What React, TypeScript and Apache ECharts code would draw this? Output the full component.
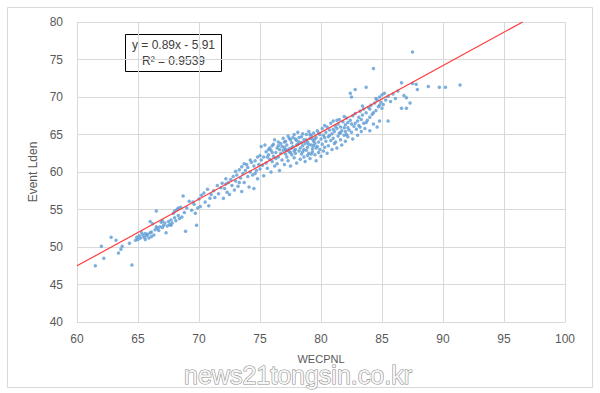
import React, { useEffect, useRef } from "react";
import * as echarts from "echarts";

const xTicks = { min: 60, max: 100, interval: 5 };
const yTicks = { min: 40, max: 80, interval: 5 };
const xTitle = "WECPNL";
const yTitle = "Event Lden";
const slope = 0.89;
const intercept = -5.91;
const rSquared = "0.9539";
const watermark = "news21tongsin.co.kr";

const pointsLow: [number, number][] = [
  [61.5, 47.5], [62.0, 50.1], [62.2, 48.5], [62.8, 51.3], [63.2, 50.9], [63.4, 49.2], [63.6, 49.7], [63.7, 50.1],
  [64.3, 50.5], [64.5, 47.6], [64.8, 50.9], [64.9, 51.3], [65.0, 51.0], [65.1, 51.5], [65.2, 51.2], [65.4, 51.6],
  [65.5, 51.3], [65.6, 51.8], [65.7, 51.5], [65.8, 51.7], [65.9, 51.2], [66.0, 51.9], [66.0, 53.4], [66.1, 52.0],
  [66.2, 53.1], [66.3, 51.6], [66.4, 52.3], [66.5, 54.8], [66.6, 52.5], [66.7, 52.2], [66.8, 52.7], [66.9, 53.3],
  [67.0, 52.6], [67.1, 52.9], [67.2, 53.2], [67.3, 51.9], [67.4, 52.8], [67.5, 53.4], [67.6, 53.0], [67.7, 53.6],
  [67.8, 53.2], [67.9, 54.5], [68.0, 53.9], [68.0, 54.8], [68.1, 53.5], [68.2, 55.0], [68.3, 54.2], [68.4, 53.8],
  [68.5, 55.3], [68.6, 54.0], [68.7, 56.8], [68.9, 52.1], [69.0, 55.2], [69.2, 56.1], [69.4, 54.9], [69.5, 56.0],
  [69.7, 54.5], [69.8, 52.9], [69.9, 55.2], [70.0, 56.4], [70.1, 55.4], [70.2, 56.9], [70.4, 57.2], [70.5, 56.0],
  [70.7, 57.7], [70.8, 55.5], [70.9, 56.5], [65.3, 51.9], [65.6, 51.0], [66.1, 51.4], [66.5, 52.7], [67.0, 53.5],
  [67.7, 52.9], [68.3, 55.2], [68.8, 54.6], [69.6, 55.7],
];

const pointsMidLow: [number, number][] = [
  [71.0, 57.0], [71.2, 57.5], [71.3, 56.6], [71.5, 58.2], [71.6, 57.1], [71.8, 57.9], [71.9, 58.5], [72.0, 56.5],
  [72.1, 57.8], [72.2, 58.4], [72.3, 57.3], [72.4, 58.6], [72.5, 57.0], [72.6, 59.0], [72.7, 58.2], [72.8, 59.4],
  [72.9, 57.6], [73.0, 58.8], [73.1, 59.6], [73.2, 58.1], [73.3, 60.3], [73.4, 59.2], [73.5, 57.4], [73.5, 60.7],
  [73.6, 59.8], [73.7, 58.6], [73.8, 60.2], [73.9, 61.0], [74.0, 59.4], [74.0, 60.6], [74.1, 58.0], [74.2, 60.0],
  [74.3, 61.3], [74.4, 59.6], [74.5, 60.8], [74.5, 57.8], [74.6, 61.5], [74.7, 60.2], [74.8, 59.1], [74.9, 61.0],
  [75.0, 60.4], [75.0, 62.2], [72.2, 59.1], [73.0, 60.1], [73.7, 61.1], [74.2, 61.6], [74.8, 62.0], [73.3, 58.6],
  [74.6, 59.8],
];

const pointsDense: [number, number][] = [
  [75.1, 61.6], [75.1, 63.4], [75.2, 60.9], [75.3, 62.0], [75.3, 59.5], [75.4, 63.6], [75.5, 61.2], [75.5, 62.7],
  [75.6, 60.5], [75.7, 62.3], [75.7, 63.0], [75.8, 61.7], [75.9, 60.0], [75.9, 62.9], [76.0, 61.4], [76.0, 63.5],
  [76.1, 62.1], [76.2, 64.3], [76.2, 60.8], [76.3, 62.6], [76.4, 63.2], [76.4, 61.1], [76.5, 62.0], [76.5, 64.0],
  [76.6, 63.0], [76.6, 60.2], [76.7, 62.5], [76.7, 63.8], [76.8, 61.6], [76.9, 62.9], [76.9, 64.5], [77.0, 63.3],
  [77.0, 61.0], [77.1, 62.4], [77.1, 64.1], [77.2, 63.6], [77.2, 62.0], [77.3, 64.8], [77.3, 61.5], [77.4, 63.1],
  [77.4, 62.7], [77.5, 64.3], [77.5, 60.8], [77.6, 63.9], [77.6, 62.3], [77.7, 64.6], [77.7, 63.4], [77.8, 61.9],
  [77.8, 65.0], [77.9, 63.0], [77.9, 62.5], [78.0, 64.2], [78.0, 61.2], [78.1, 63.7], [78.1, 65.3], [78.2, 62.8],
  [78.2, 64.0], [78.3, 63.2], [78.3, 61.7], [78.4, 64.7], [78.4, 62.4], [78.5, 63.5], [78.5, 65.1], [78.6, 62.0],
  [78.6, 64.3], [78.7, 63.8], [78.7, 61.4], [78.8, 65.0], [78.8, 62.9], [78.9, 64.0], [78.9, 63.3], [79.0, 62.5],
  [79.0, 65.4], [79.1, 64.5], [79.1, 61.8], [79.2, 63.6], [79.2, 64.9], [79.3, 62.7], [79.3, 63.1], [79.4, 65.2],
  [79.4, 64.1], [79.5, 62.3], [79.5, 63.8], [79.6, 64.6], [79.6, 61.5], [79.7, 63.4], [79.7, 65.5], [79.8, 64.0],
  [79.8, 62.6], [79.9, 63.0], [79.9, 65.0], [80.0, 64.4], [80.0, 62.1],
  [75.6, 62.0], [75.8, 63.2], [76.1, 63.7], [76.3, 61.8], [76.8, 63.4], [77.0, 64.0], [77.2, 62.9], [77.4, 64.5],
  [77.6, 63.2], [77.8, 62.8], [78.0, 63.6], [78.2, 64.6], [78.4, 63.9], [78.6, 63.0], [78.8, 64.3], [79.0, 63.7],
  [79.2, 62.4], [79.4, 63.5], [79.6, 63.2], [79.8, 65.2], [76.5, 63.5], [77.1, 63.0], [77.9, 64.4], [78.5, 62.7],
  [79.1, 65.0], [79.5, 64.4], [76.0, 62.6], [77.5, 62.6], [78.9, 62.2], [79.3, 64.4],
];

const pointsMidHigh: [number, number][] = [
  [80.1, 63.7], [80.1, 65.8], [80.2, 64.9], [80.2, 62.8], [80.3, 66.2], [80.3, 63.3], [80.4, 65.3], [80.4, 64.1],
  [80.5, 62.5], [80.5, 66.0], [80.6, 64.7], [80.6, 63.5], [80.7, 65.6], [80.8, 64.2], [80.8, 66.5], [80.9, 63.0],
  [80.9, 65.1], [81.0, 64.5], [81.0, 66.8], [81.1, 63.8], [81.1, 65.4], [81.2, 66.1], [81.2, 64.0], [81.3, 65.8],
  [81.3, 63.2], [81.4, 66.4], [81.4, 64.8], [81.5, 65.2], [81.5, 67.0], [81.6, 64.3], [81.6, 66.0], [81.7, 65.5],
  [81.7, 63.6], [81.8, 66.7], [81.9, 64.9], [81.9, 65.9], [82.0, 66.3], [82.0, 64.1], [82.1, 67.2], [82.1, 65.0],
  [82.2, 64.7], [82.2, 66.6], [82.3, 65.6], [82.4, 70.5], [82.4, 66.9], [82.5, 70.0], [82.5, 65.3], [82.6, 67.5],
  [82.6, 64.4], [82.7, 66.1], [82.8, 71.0], [82.8, 67.8], [82.9, 65.7], [83.0, 66.8], [83.0, 64.9], [83.1, 67.3],
  [83.2, 66.0], [83.2, 68.1], [83.3, 65.4], [83.4, 67.6], [83.5, 66.5], [83.5, 68.4], [83.6, 65.8], [83.7, 71.3],
  [83.7, 67.9], [83.8, 66.9], [83.9, 68.6], [84.0, 67.3], [84.0, 65.5], [84.1, 68.9], [84.2, 67.7], [84.3, 73.8],
  [84.3, 66.4], [84.4, 69.2], [84.5, 68.2], [84.6, 66.0], [84.6, 69.6], [84.7, 68.7], [84.8, 66.8], [84.8, 70.0],
  [84.9, 69.3], [85.0, 68.5], [85.0, 70.3],
  [80.3, 64.6], [80.7, 64.9], [81.0, 65.7], [81.3, 66.9], [81.6, 65.2], [81.9, 67.4], [82.2, 65.9], [82.5, 66.4],
  [82.8, 66.5], [83.1, 66.2], [83.4, 68.8], [83.7, 66.6], [84.0, 68.4], [84.3, 67.9], [84.5, 69.8], [84.8, 68.9],
  [83.3, 67.0], [82.0, 65.4],
];

const pointsHigh: [number, number][] = [
  [85.1, 69.0], [85.2, 70.5], [85.3, 69.6], [85.5, 66.8], [85.5, 70.1], [85.7, 69.4], [85.9, 70.4], [86.1, 69.8],
  [86.3, 70.8], [86.6, 71.9], [86.6, 68.5], [86.8, 70.2], [87.0, 69.9], [87.0, 68.5], [87.3, 69.2], [87.5, 71.8],
  [87.5, 76.0], [87.8, 71.7], [87.9, 71.0], [88.8, 71.4], [89.7, 71.3], [90.2, 71.3], [91.4, 71.6],
];

const allPoints = [...pointsLow, ...pointsMidLow, ...pointsDense, ...pointsMidHigh, ...pointsHigh];
const trendEndX = (yTicks.max - intercept) / slope;
const trendLine: [number, number][] = [
  [xTicks.min, slope * xTicks.min + intercept],
  [trendEndX, slope * trendEndX + intercept],
];

const FONT = "'Liberation Sans', Arial, sans-serif";

export default function App() {
  const ref = useRef<HTMLDivElement>(null);
  useEffect(() => {
    if (!ref.current) return;
    const chart = echarts.init(ref.current, undefined, { renderer: "svg" });
    chart.setOption({
      animation: false,
      backgroundColor: "#ffffff",
      grid: { left: 77, right: 35, top: 22, bottom: 71 },
      xAxis: {
        type: "value",
        min: xTicks.min,
        max: xTicks.max,
        interval: xTicks.interval,
        name: xTitle,
        nameLocation: "middle",
        nameGap: 31,
        nameTextStyle: { color: "#595959", fontSize: 11, fontFamily: FONT },
        axisLine: { show: true, lineStyle: { color: "#d9d9d9" } },
        axisTick: { show: false },
        axisLabel: { color: "#595959", fontSize: 12, margin: 11, fontFamily: FONT },
        splitLine: { show: true, lineStyle: { color: "#d9d9d9" } },
      },
      yAxis: {
        type: "value",
        min: yTicks.min,
        max: yTicks.max,
        interval: yTicks.interval,
        name: yTitle,
        nameLocation: "middle",
        nameGap: 32,
        nameRotate: 90,
        nameTextStyle: { color: "#595959", fontSize: 12, fontFamily: FONT },
        axisLine: { show: true, lineStyle: { color: "#d9d9d9" } },
        axisTick: { show: false },
        axisLabel: { color: "#595959", fontSize: 12, margin: 14, fontFamily: FONT },
        splitLine: { show: true, lineStyle: { color: "#d9d9d9" } },
      },
      series: [
        {
          type: "scatter",
          data: allPoints,
          symbol: "circle",
          symbolSize: 3.5,
          itemStyle: { color: "#5b9bd5" },
          z: 2,
        },
        {
          type: "line",
          data: trendLine,
          symbol: "none",
          lineStyle: { color: "#ff3b3b", width: 1.2 },
          z: 3,
        },
      ],
      graphic: [
        {
          type: "rect",
          shape: { x: 7.5, y: 7.5, width: 585, height: 380 },
          style: { fill: "none", stroke: "#d9d9d9", lineWidth: 1 },
          silent: true,
          z: 0,
        },
        {
          type: "group",
          left: 125,
          top: 34,
          z: 10,
          children: [
            {
              type: "rect",
              shape: { x: 0.5, y: 0.5, width: 96, height: 37 },
              style: { fill: "#ffffff", stroke: "#000000", lineWidth: 1 },
            },
            {
              type: "text",
              x: 48.5,
              y: 11,
              style: {
                text: `y = ${slope}x - ${Math.abs(intercept)}`,
                fill: "#404040",
                font: `12px ${FONT}`,
                align: "center",
                verticalAlign: "middle",
              },
            },
            {
              type: "text",
              x: 48.5,
              y: 27,
              style: {
                text: `R² = ${rSquared}`,
                fill: "#404040",
                font: `12px ${FONT}`,
                align: "center",
                verticalAlign: "middle",
              },
            },
          ],
        },
        {
          type: "text",
          x: 298,
          y: 375,
          z: 20,
          style: {
            text: watermark,
            fill: "#f6f6f6",
            stroke: "#8a8a8a",
            lineWidth: 1.1,
            font: `25px ${FONT}`,
            align: "center",
            verticalAlign: "middle",
            shadowColor: "rgba(0,0,0,0.3)",
            shadowBlur: 2,
            shadowOffsetX: 1,
            shadowOffsetY: 1,
          },
        },
      ],
    });
    return () => chart.dispose();
  }, []);
  return (
    <div
      ref={ref}
      style={{ position: "fixed", left: 0, top: 0, width: 600, height: 393 }}
    />
  );
}
